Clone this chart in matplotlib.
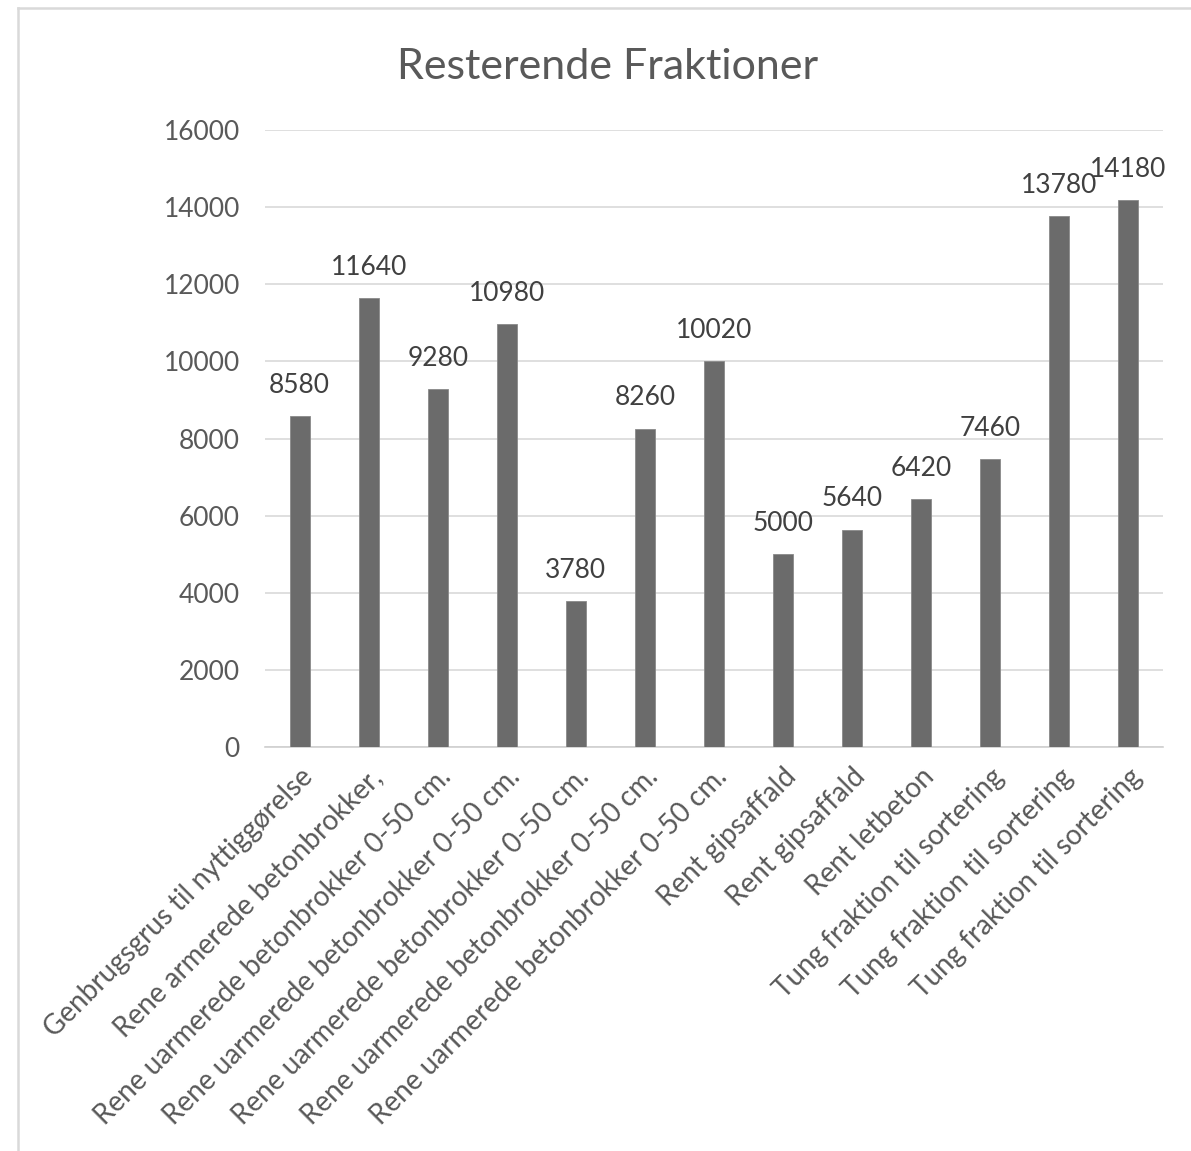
import matplotlib
matplotlib.use("Agg")
import matplotlib.pyplot as plt

categories = [
    "Genbrugsgrus til nyttiggørelse",
    "Rene armerede betonbrokker,",
    "Rene uarmerede betonbrokker 0-50 cm.",
    "Rene uarmerede betonbrokker 0-50 cm.",
    "Rene uarmerede betonbrokker 0-50 cm.",
    "Rene uarmerede betonbrokker 0-50 cm.",
    "Rene uarmerede betonbrokker 0-50 cm.",
    "Rent gipsaffald",
    "Rent gipsaffald",
    "Rent letbeton",
    "Tung fraktion til sortering",
    "Tung fraktion til sortering",
    "Tung fraktion til sortering",
]
values = [8580, 11640, 9280, 10980, 3780, 8260, 10020, 5000, 5640, 6420, 7460, 13780, 14180]
yticks = [0, 2000, 4000, 6000, 8000, 10000, 12000, 14000, 16000]
title = "Resterende Fraktioner"

font = ["Lato", "DejaVu Sans"]
plt.rcParams["font.family"] = font
txt = "#595959"
fs = 19

fig = plt.figure(figsize=(11.91, 11.51), dpi=100)
ax = fig.add_axes([0.2225, 0.351, 0.754, 0.536])

x = list(range(len(values)))
ax.bar(x, values, width=0.29, color="#6b6b6b", edgecolor="#8a8a8a", linewidth=0.6, zorder=3)
ax.set_xlim(-0.5, len(values) - 0.5)
ax.set_ylim(0, 16000)
ax.set_yticks(yticks)
ax.set_yticklabels([str(v) for v in yticks], fontsize=fs, color=txt)
ax.yaxis.grid(True, color="#d9d9d9", linewidth=1.2, zorder=0)
ax.tick_params(axis="y", length=0, pad=18)
ax.tick_params(axis="x", length=0, pad=12)
for s in ["top", "right", "left"]:
    ax.spines[s].set_visible(False)
ax.spines["bottom"].set_color("#d0d0d0")
ax.spines["bottom"].set_linewidth(1.2)

ax.set_xticks(x)
ax.set_xticklabels(categories, rotation=45, ha="right", rotation_mode="anchor",
                   fontsize=20, color=txt)

for i, v in enumerate(values):
    ax.annotate(str(v), (i, v), xytext=(0, 22), textcoords="offset points",
                ha="center", va="center", fontsize=fs, color="#404040")

fig.text(0.51, 0.942, title, ha="center", va="center", fontsize=31, color=txt)

# outer chart border (left & top)
fig.add_artist(plt.Line2D([0.0151, 0.0151], [0, 0.993], color="#d9d9d9", linewidth=1.8,
                          transform=fig.transFigure))
fig.add_artist(plt.Line2D([0.0151, 1.0], [0.993, 0.993], color="#d9d9d9", linewidth=1.8,
                          transform=fig.transFigure))

fig.savefig("out.png", dpi=100, facecolor="white")
